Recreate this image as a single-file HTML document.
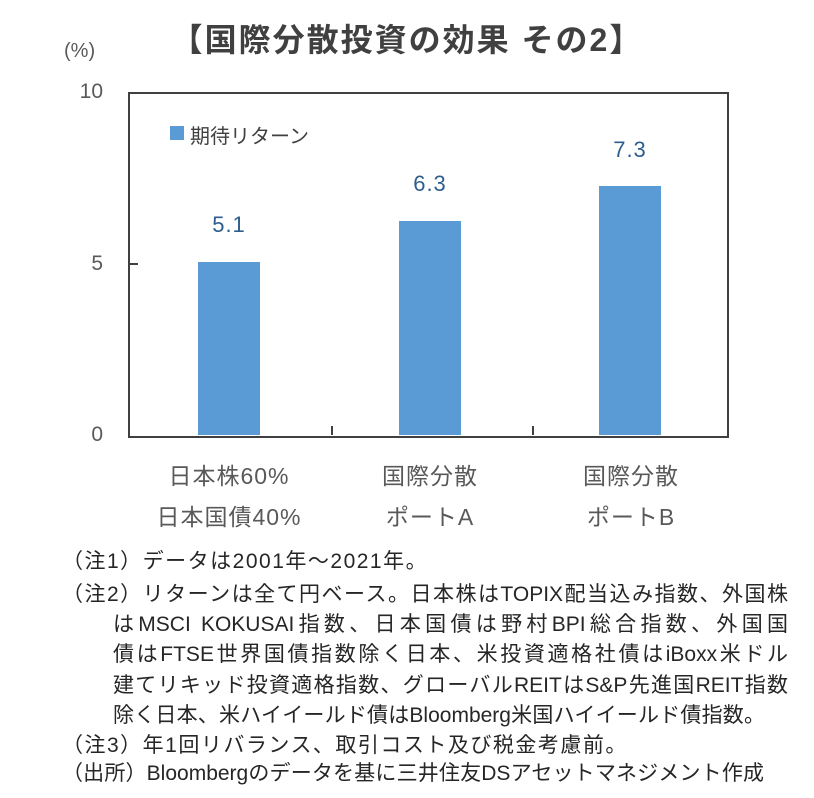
<!DOCTYPE html>
<html><head><meta charset="utf-8"><style>
body{margin:0;background:#fff;width:814px;height:798px;position:relative;overflow:hidden;font-family:"Liberation Sans","Noto Sans CJK JP",sans-serif;}
.a{position:absolute;white-space:nowrap;}
.t{font-size:32px;font-weight:bold;color:#404040;left:0;width:814px;text-align:center;top:15px;letter-spacing:2px;}
.y{font-size:21px;color:#595959;text-align:right;width:40px;}
.c{font-size:23px;color:#595959;text-align:center;width:200px;letter-spacing:1px;}
.d{font-size:22px;color:#2e5e8e;text-align:center;width:80px;letter-spacing:1px;}
.n{font-size:21px;color:#262626;letter-spacing:1.5px;}
.j{text-align:justify;text-align-last:justify;white-space:normal;letter-spacing:0;}
.bar{position:absolute;background:#5b9bd5;}
</style></head><body>
<div class="a t">【国際分散投資の効果 その2】</div>
<div class="a" style="left:64px;top:40px;font-size:20px;color:#595959">(%)</div>
<div class="a y" style="left:63px;top:80px">10</div>
<div class="a y" style="left:63px;top:252px">5</div>
<div class="a y" style="left:63px;top:423px">0</div>
<div style="position:absolute;left:128px;top:92px;width:597px;height:342px;border:2px solid #404040;"></div>
<div style="position:absolute;left:128px;top:263px;width:10px;height:2px;background:#404040"></div>
<div style="position:absolute;left:331px;top:426px;width:2px;height:9px;background:#404040"></div>
<div style="position:absolute;left:532px;top:426px;width:2px;height:9px;background:#404040"></div>
<div class="bar" style="left:198px;top:262px;width:62px;height:173px"></div>
<div class="bar" style="left:399px;top:221px;width:62px;height:214px"></div>
<div class="bar" style="left:599px;top:186px;width:62px;height:249px"></div>
<div class="bar" style="left:170px;top:126px;width:14px;height:14px"></div>
<div class="a" style="left:190px;top:120px;font-size:20px;color:#404040">期待リターン</div>
<div class="a d" style="left:189px;top:212px">5.1</div>
<div class="a d" style="left:390px;top:171px">6.3</div>
<div class="a d" style="left:590px;top:137px">7.3</div>
<div class="a c" style="left:129px;top:457px">日本株60%</div>
<div class="a c" style="left:129px;top:498px">日本国債40%</div>
<div class="a c" style="left:330px;top:457px">国際分散</div>
<div class="a c" style="left:330px;top:498px">ポートA</div>
<div class="a c" style="left:531px;top:457px">国際分散</div>
<div class="a c" style="left:531px;top:498px">ポートB</div>
<div class="a n" style="left:62px;top:545px">（注1）データは2001年～2021年。</div>
<div class="a n j" style="left:62px;top:578px;width:726px">（注2）リターンは全て円ベース。日本株はTOPIX配当込み指数、外国株</div>
<div class="a n j" style="left:113px;top:608px;width:675px">はMSCI KOKUSAI指数、日本国債は野村BPI総合指数、外国国</div>
<div class="a n j" style="left:113px;top:638px;width:675px">債はFTSE世界国債指数除く日本、米投資適格社債はiBoxx米ドル</div>
<div class="a n j" style="left:113px;top:669px;width:675px">建てリキッド投資適格指数、グローバルREITはS&amp;P先進国REIT指数</div>
<div class="a n j" style="left:113px;top:699px;width:652px">除く日本、米ハイイールド債はBloomberg米国ハイイールド債指数。</div>
<div class="a n" style="left:62px;top:729px">（注3）年1回リバランス、取引コスト及び税金考慮前。</div>
<div class="a n j" style="left:62px;top:757px;width:702px">（出所）Bloombergのデータを基に三井住友DSアセットマネジメント作成</div>
</body></html>
